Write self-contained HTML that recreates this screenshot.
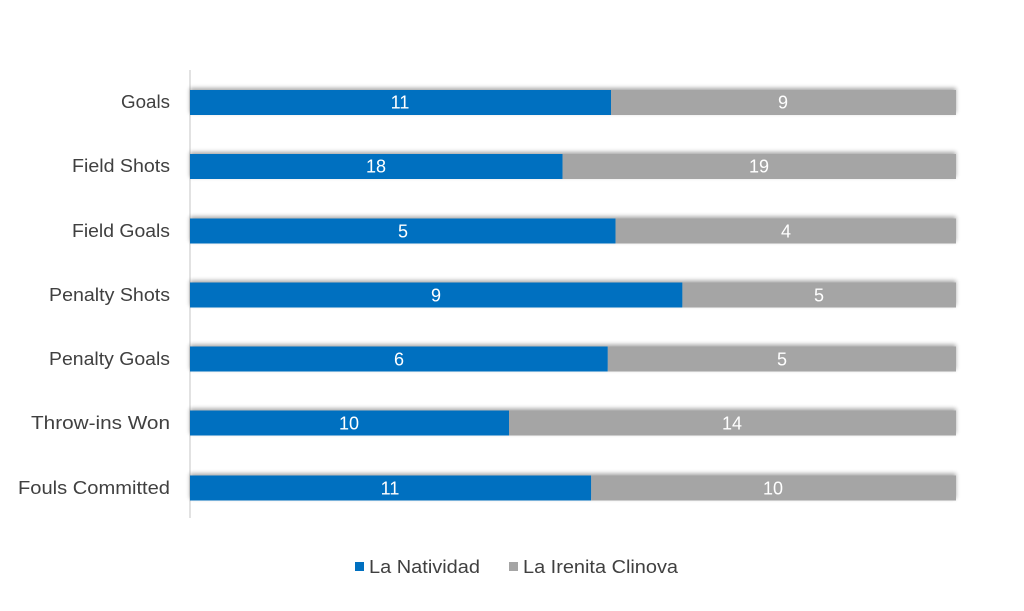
<!DOCTYPE html>
<html><head><meta charset="utf-8"><style>
body{margin:0;background:#fff;width:1024px;height:606px;overflow:hidden;font-family:"Liberation Sans",sans-serif}
</style></head><body>
<svg width="1024" height="606" xmlns="http://www.w3.org/2000/svg">
<defs><filter id="sh" x="-5%" y="-50%" width="110%" height="200%"><feGaussianBlur in="SourceAlpha" stdDeviation="2"/><feOffset dy="-2"/><feComponentTransfer><feFuncA type="linear" slope="0.35"/></feComponentTransfer><feMerge><feMergeNode/><feMergeNode in="SourceGraphic"/></feMerge></filter></defs>
<line x1="190" y1="70" x2="190" y2="518" stroke="#d9d9d9" stroke-width="1.5"/>
<g font-size="18.5" fill="#404040" text-anchor="end" lengthAdjust="spacingAndGlyphs">
<text x="170" y="108" textLength="49" lengthAdjust="spacingAndGlyphs">Goals</text>
<text x="170" y="172" textLength="98" lengthAdjust="spacingAndGlyphs">Field Shots</text>
<text x="170" y="237" textLength="98" lengthAdjust="spacingAndGlyphs">Field Goals</text>
<text x="170" y="301" textLength="121" lengthAdjust="spacingAndGlyphs">Penalty Shots</text>
<text x="170" y="365" textLength="121" lengthAdjust="spacingAndGlyphs">Penalty Goals</text>
<text x="170" y="429" textLength="139" lengthAdjust="spacingAndGlyphs">Throw-ins Won</text>
<text x="170" y="494" textLength="152" lengthAdjust="spacingAndGlyphs">Fouls Committed</text>
</g>
<g filter="url(#sh)">
<rect x="190" y="90" width="421" height="25" fill="#0070c0"/><rect x="611" y="90" width="345" height="25" fill="#a5a5a5"/>
<rect x="190" y="154" width="372.6" height="25" fill="#0070c0"/><rect x="562.6" y="154" width="393.4" height="25" fill="#a5a5a5"/>
<rect x="190" y="218.5" width="425.6" height="25" fill="#0070c0"/><rect x="615.6" y="218.5" width="340.4" height="25" fill="#a5a5a5"/>
<rect x="190" y="282.5" width="492.4" height="25" fill="#0070c0"/><rect x="682.4" y="282.5" width="273.6" height="25" fill="#a5a5a5"/>
<rect x="190" y="346.5" width="417.8" height="25" fill="#0070c0"/><rect x="607.8" y="346.5" width="348.2" height="25" fill="#a5a5a5"/>
<rect x="190" y="410.5" width="319" height="25" fill="#0070c0"/><rect x="509" y="410.5" width="447" height="25" fill="#a5a5a5"/>
<rect x="190" y="475.5" width="401.2" height="25" fill="#0070c0"/><rect x="591.2" y="475.5" width="364.8" height="25" fill="#a5a5a5"/>
</g>
<g font-size="18" fill="#fff" text-anchor="middle">
<text x="400" y="108.5">11</text><text x="783" y="108.5">9</text>
<text x="376" y="172.5">18</text><text x="759" y="172.5">19</text>
<text x="403" y="237.5">5</text><text x="786" y="237.5">4</text>
<text x="436" y="301.5">9</text><text x="819" y="301.5">5</text>
<text x="399" y="365.5">6</text><text x="782" y="365.5">5</text>
<text x="349" y="429.5">10</text><text x="732" y="429.5">14</text>
<text x="390" y="494.5">11</text><text x="773" y="494.5">10</text>
</g>
<rect x="355" y="562" width="9" height="9" fill="#0070c0"/>
<text x="369" y="573" font-size="18.5" fill="#404040" textLength="111" lengthAdjust="spacingAndGlyphs">La Natividad</text>
<rect x="509" y="562" width="9" height="9" fill="#a5a5a5"/>
<text x="523" y="573" font-size="18.5" fill="#404040" textLength="155" lengthAdjust="spacingAndGlyphs">La Irenita Clinova</text>
</svg>
</body></html>
